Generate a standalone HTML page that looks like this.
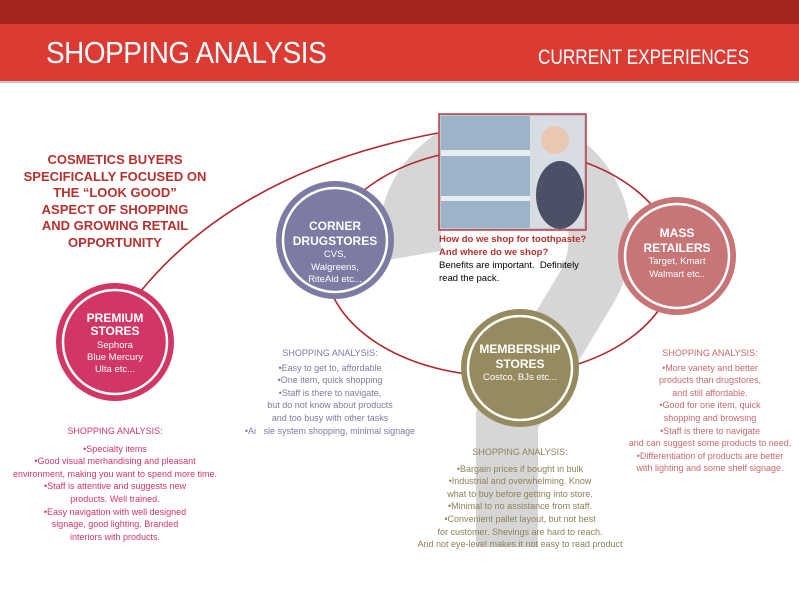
<!DOCTYPE html>
<html><head><meta charset="utf-8"><style>
body{margin:0;width:799px;height:600px;overflow:hidden;background:#fff;font-family:"Liberation Sans",sans-serif;position:relative}
.a{position:absolute;text-align:center;white-space:nowrap}
</style></head><body>
<div style="position:absolute;left:0;top:0;width:799px;height:24px;background:#a3271f"></div>
<div style="position:absolute;left:0;top:24px;width:799px;height:57px;background:#db3b33;border-bottom:2px solid #c9c9c9"></div>
<div class="a" style="left:46px;top:35px;color:#fff;font-size:31px;letter-spacing:-0.5px;transform:scaleX(0.9);transform-origin:left">SHOPPING ANALYSIS</div>
<div class="a" style="left:538px;top:46px;color:#fff;font-size:21px;transform:scaleX(0.82);transform-origin:left">CURRENT EXPERIENCES</div>
<svg width="799" height="600" style="position:absolute;left:0;top:0">
<path d="M411,256 A95,95 0 1 1 587,287 L507,420 L507,547" fill="none" stroke="#d6d6d6" stroke-width="62"/>
<path d="M140,292 Q240,170 438,133" fill="none" stroke="#b3262a" stroke-width="1.6"/>
<ellipse cx="500" cy="262" rx="175" ry="114" fill="none" stroke="#b3262a" stroke-width="1.6"/>
<rect x="439" y="114" width="147" height="116" fill="#b5c9d8" stroke="#c1373b" stroke-width="1.5"/>
<rect x="441" y="116" width="100" height="112" fill="#9db3c7"/>
<rect x="441" y="150" width="100" height="6" fill="#e6ecf0"/>
<rect x="441" y="196" width="100" height="5" fill="#e6ecf0"/>
<rect x="530" y="116" width="54" height="112" fill="#d7dde2"/>
<ellipse cx="560" cy="195" rx="24" ry="34" fill="#4c5066"/>
<circle cx="555" cy="140" r="14" fill="#e9c7b2"/>
<circle cx="115" cy="342" r="59" fill="#d23665"/><circle cx="115" cy="342" r="52" fill="none" stroke="#fff" stroke-width="2.5"/>
<circle cx="335" cy="240" r="59" fill="#7d7aa3"/><circle cx="335" cy="240" r="52" fill="none" stroke="#fff" stroke-width="2.5"/>
<circle cx="677" cy="256" r="59" fill="#c87577"/><circle cx="677" cy="256" r="52" fill="none" stroke="#fff" stroke-width="2.5"/>
<circle cx="520" cy="368" r="59" fill="#958b5f"/><circle cx="520" cy="368" r="52" fill="none" stroke="#fff" stroke-width="2.5"/>
</svg>
<div class="a" style="left:20px;top:152px;width:190px;color:#b7312e;font-size:13px;font-weight:bold;line-height:16.5px">COSMETICS BUYERS<br>SPECIFICALLY FOCUSED ON<br>THE “LOOK GOOD”<br>ASPECT OF SHOPPING<br>AND GROWING RETAIL<br>OPPORTUNITY</div>
<div class="a" style="left:55px;top:312px;width:120px;color:#fff;font-size:12px;line-height:13px"><b>PREMIUM<br>STORES</b><div style="font-size:9.5px;line-height:12px;margin-top:2px">Sephora<br>Blue Mercury<br>Ulta etc...</div></div>
<div class="a" style="left:275px;top:219px;width:120px;color:#fff;font-size:12px;line-height:15px"><b>CORNER<br>DRUGSTORES</b><div style="font-size:9.5px;line-height:12.5px">CVS,<br>Walgreens,<br>RiteAid etc...</div></div>
<div class="a" style="left:617px;top:226px;width:120px;color:#fff;font-size:12px;line-height:15px"><b>MASS<br>RETAILERS</b><div style="font-size:9.5px;line-height:12.5px">Target, Kmart<br>Walmart etc..</div></div>
<div class="a" style="left:460px;top:342px;width:120px;color:#fff;font-size:12px;line-height:15px"><b>MEMBERSHIP<br>STORES</b><div style="font-size:9.5px;line-height:12.5px">Costco, BJs etc...</div></div>
<div style="position:absolute;left:439px;top:233px;font-size:9.5px;line-height:13px;white-space:nowrap"><b style="color:#b7312e">How do we shop for toothpaste?<br>And where do we shop?</b><br>Benefits are important.&nbsp; Definitely<br>read the pack.</div>
<div class="a" style="left:0;top:425px;width:230px;color:#d23665;font-size:9px;line-height:12.6px">SHOPPING ANALYSIS:<div style="margin-top:5px">•Specialty items<br>•Good visual merhandising and pleasant<br>environment, making you want to spend more time.<br>•Staff is attentive and suggests new<br>products. Well trained.<br>•Easy navigation with well designed<br>signage, good lighting. Branded<br>interiors with products.</div></div>
<div class="a" style="left:230px;top:347px;width:200px;color:#7d7aa3;font-size:9px;line-height:12.6px">SHOPPING ANALYSIS:<div style="margin-top:2px">•Easy to get to, affordable<br>•One item, quick shopping<br>•Staff is there to navigate,<br>but do not know about products<br>and too busy with other tasks<br>•Ai&nbsp;&nbsp; sle system shopping, minimal signage</div></div>
<div class="a" style="left:410px;top:446px;width:220px;color:#8c8258;font-size:9px;line-height:12.6px">SHOPPING ANALYSIS:<div style="margin-top:4px">•Bargain prices if bought in bulk<br>•Industrial and overwhelming. Know<br>what to buy before getting into store.<br>•Minimal to no assistance from staff.<br>•Convenient pallet layout, but not best<br>for customer. Shevings are hard to reach.<br>And not eye-level makes it not easy to read product</div></div>
<div class="a" style="left:610px;top:347px;width:200px;color:#c8696d;font-size:9px;line-height:12.6px">SHOPPING ANALYSIS:<div style="margin-top:2px">•More variety and better<br>products than drugstores,<br>and still affordable.<br>•Good for one item, quick<br>shopping and browsing<br>•Staff is there to navigate<br>and can suggest some products to need.<br>•Differentiation of products are better<br>with lighting and some shelf signage.</div></div>
</body></html>
